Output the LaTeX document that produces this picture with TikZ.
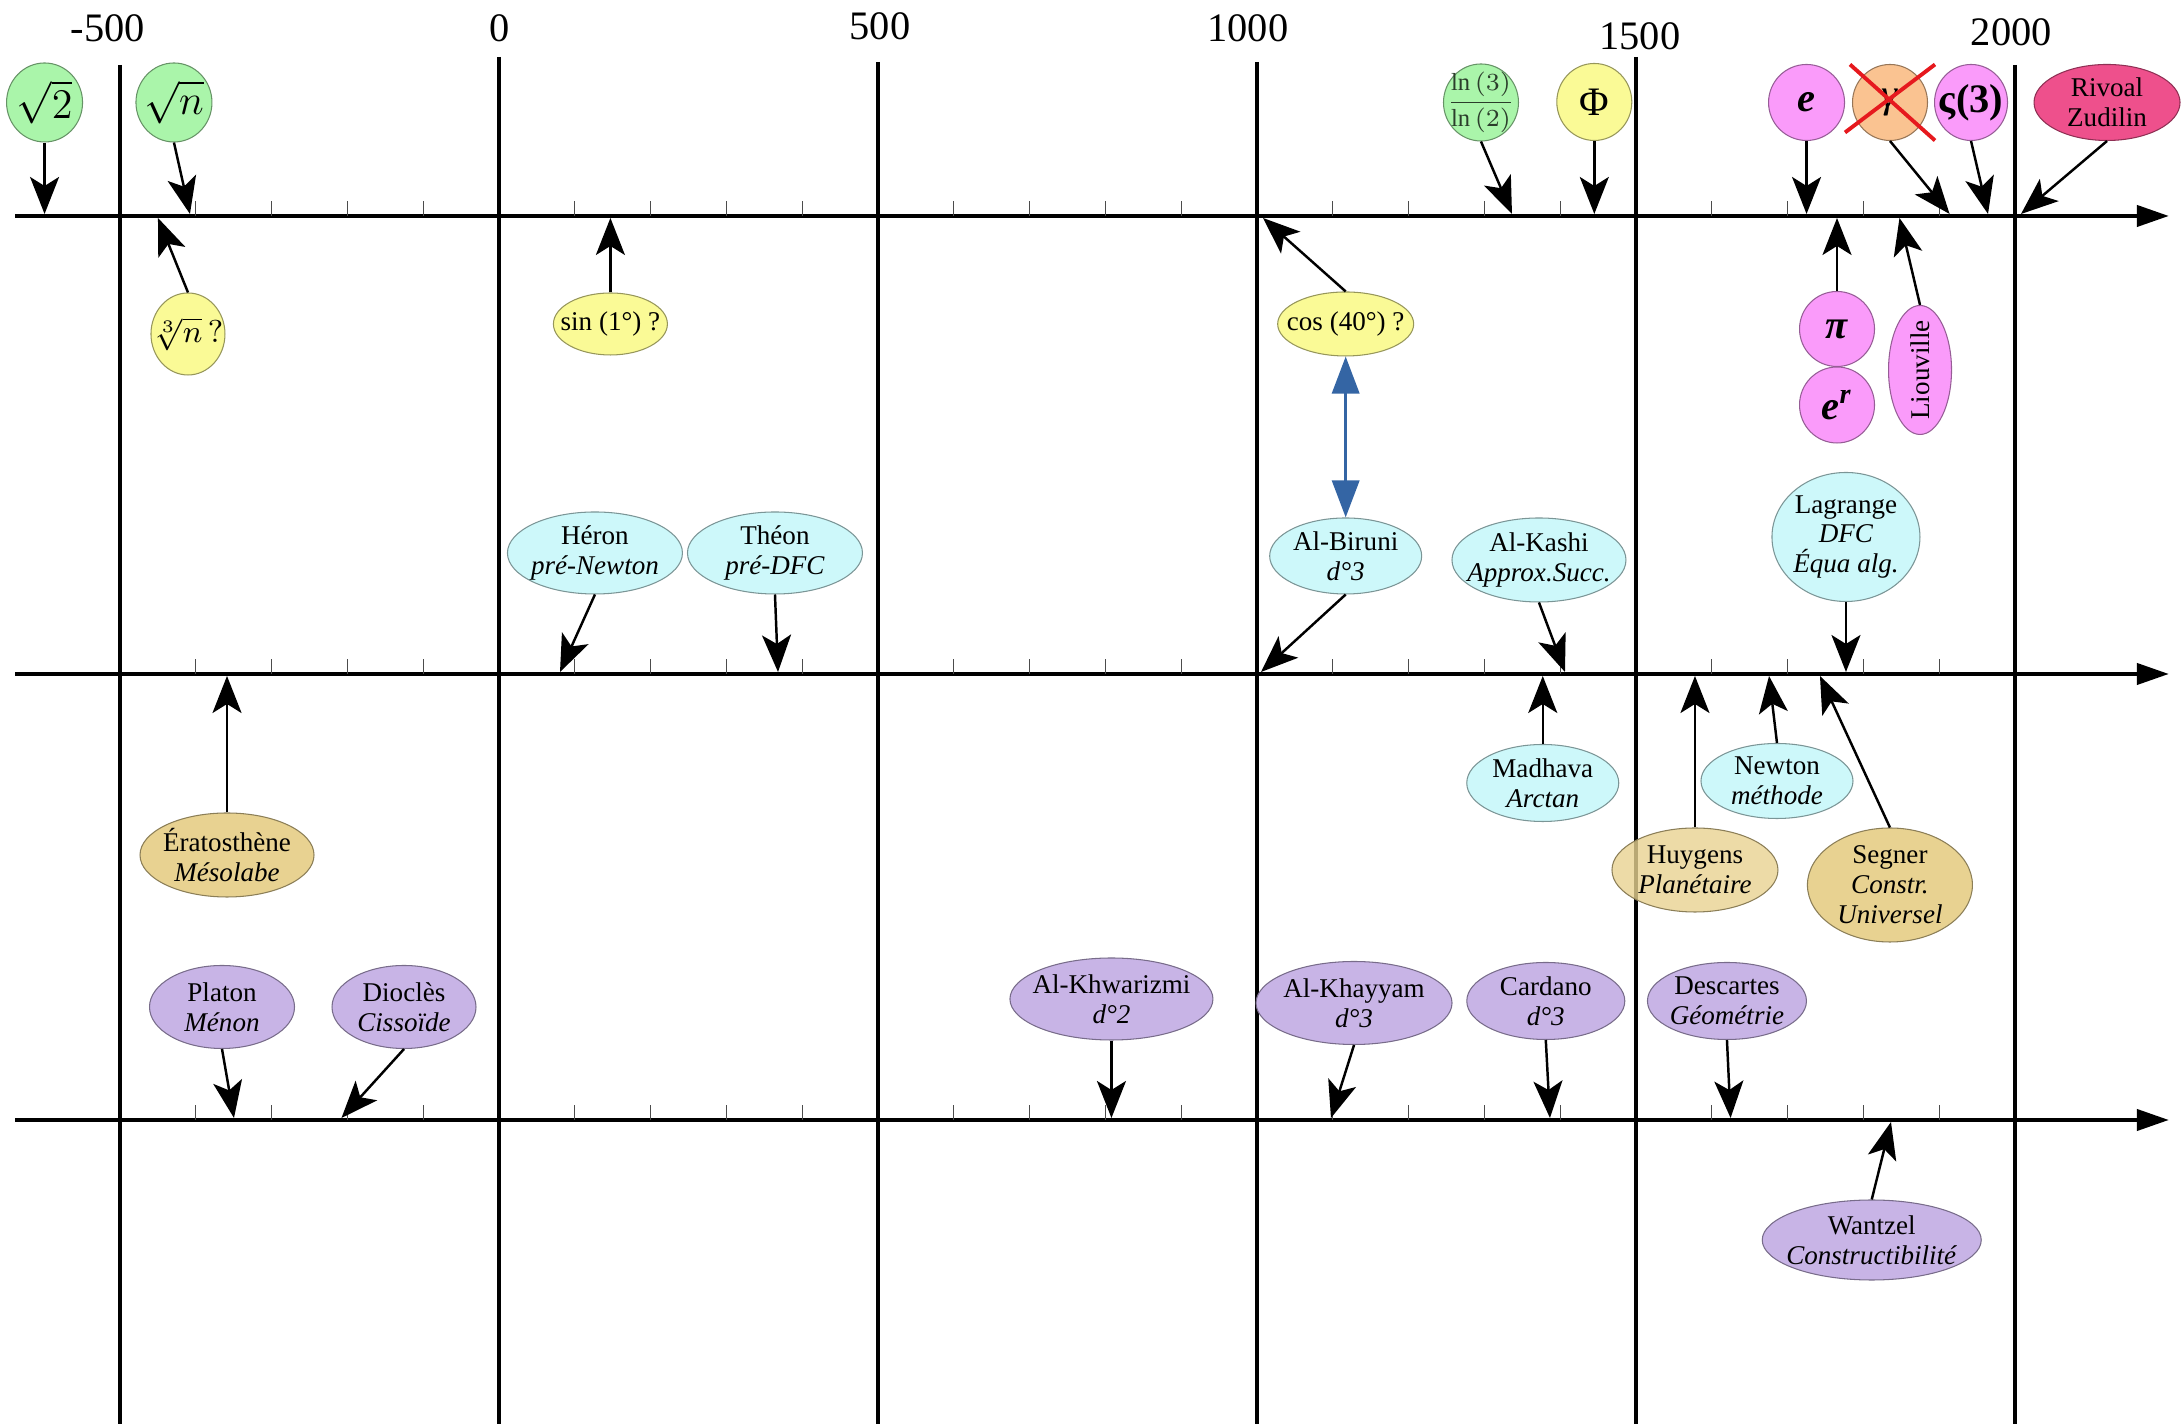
\documentclass[tikz,border=0pt]{standalone}
\usepackage{fontspec}
\setmainfont{Liberation Serif}
\usepackage{amsmath,bm,graphicx}
\usetikzlibrary{shapes.geometric,arrows.meta}

\definecolor{vclair}{RGB}{170,245,170}
\definecolor{jclair}{RGB}{250,250,150}
\definecolor{rose}{RGB}{250,155,250}
\definecolor{orclair}{RGB}{250,195,145}
\definecolor{framboise}{RGB}{238,80,140}
\definecolor{cyclair}{RGB}{205,248,250}
\definecolor{sable}{RGB}{232,210,145}
\definecolor{mauve}{RGB}{200,180,230}
\definecolor{bleu}{RGB}{52,101,164}
\definecolor{rouge}{RGB}{230,25,30}

\tikzset{
  bulle/.style={ellipse, draw=#1!60!black, fill=#1, line width=0.3pt,
    inner sep=-3mm, align=center, font=\fontsize{7.7}{8.5}\selectfont},
  taille/.style 2 args={minimum width=#1cm, minimum height=#2cm},
  maths/.style={font=\fontsize{11.5}{13}\selectfont},
  fl/.style={-{Stealth[length=3.7mm,width=2.9mm,inset=0.9mm]}, line width=0.7pt},
  axe/.style={-{Triangle[length=3.2mm,width=2.1mm]}, line width=1.15pt},
  graduation/.style={line width=0.35pt, black!70},
  annee/.style={font=\fontsize{11.5}{13}\selectfont, inner sep=0pt},
  bidir/.style={{Triangle[length=3.7mm,width=2.7mm]}-{Triangle[length=3.7mm,width=2.7mm]}, draw=bleu, line width=1pt},
  croix/.style={draw=rouge, line width=1.1pt}
}

\begin{document}
\begin{tikzpicture}[x=0.758cm,y=1cm]
    \useasboundingbox (-6.583,0) rectangle (22.19,14.24);
    % axes, years, graduations
    \foreach \y in {12.08,7.50,3.04}
      \draw[axe] (-6.385,\y) -- (22.03,\y);
    \foreach \x/\t in {-5/13.59,0/13.67,5/13.62,10/13.62,15/13.67,20/13.59}
      \draw[line width=1pt] (\x,\t) -- (\x,0);
    \foreach \y in {12.08,7.50,3.04}
      \foreach \x in {-4,-3,-2,-1,1,2,3,4,6,7,8,9,11,12,13,14,16,17,18,19}
        \draw[graduation] (\x,\y) -- (\x,\y+0.15);
    \node[annee] (an-m500) at (-5.158,13.96) {-500};
    \node[annee] (an-0) at (0.013,13.96) {0};
    \node[annee] (an-500) at (5.026,13.98) {500};
    \node[annee] (an-1000) at (9.88,13.96) {1000};
    \node[annee] (an-1500) at (15.05,13.88) {1500};
    \node[annee] (an-2000) at (19.95,13.92) {2000};

    % nombres
    \node[bulle=vclair, maths, taille={0.76}{0.79}] (racdeux) at (-5.995,13.215) {$\sqrt{2}$};
    \node[bulle=vclair, maths, taille={0.76}{0.79}] (racn) at (-4.288,13.215) {$\sqrt{n}$};
    \node[bulle=jclair, taille={0.74}{0.82}, font=\fontsize{9.5}{11}\selectfont] (racube) at (-4.103,10.90) {$\sqrt[3]{n}\,?$};
    \node[bulle=jclair, taille={1.14}{0.62}] (sinus) at (1.47,11.00) {sin (1°) ?};
    \node[bulle=vclair, taille={0.75}{0.77}, font=\fontsize{7}{8}\selectfont, text=vclair!25!black] (lnrap) at (12.955,13.215) {$\dfrac{\ln\,(3)}{\ln\,(2)}$};
    \node[bulle=jclair, maths, taille={0.75}{0.77}] (phi) at (14.45,13.22) {Φ};
    \node[bulle=rose, maths, taille={0.76}{0.76}] (nbe) at (17.25,13.215) {\textbf{\textit{e}}};
    \node[bulle=orclair, maths, taille={0.75}{0.76}] (gamma) at (18.351,13.215) {\textit{γ}};
    \node[bulle=rose, maths, taille={0.73}{0.76}] (zeta) at (19.42,13.215) {\textbf{ς(3)}};
    \node[bulle=framboise, taille={1.46}{0.76}] (rivoal) at (21.214,13.215) {Rivoal\\Zudilin};
    \node[bulle=rose, maths, taille={0.75}{0.75}] (nbpi) at (17.652,10.95) {\textbf{\textit{π}}};
    \node[bulle=rose, maths, taille={0.75}{0.76}] (er) at (17.652,10.19) {\textbf{\textit{e\textsuperscript{r}}}};
    \node[bulle=rose, taille={0.63}{1.29}] (liouville) at (18.747,10.54) {\rotatebox{90}{Liouville}};
    \node[bulle=jclair, taille={1.36}{0.64}] (cosinus) at (11.17,11.00) {cos (40°) ?};
    \draw[croix] ([shift={(-0.40cm,0.38cm)}]gamma.center) -- ([shift={(0.45cm,-0.38cm)}]gamma.center)
                 ([shift={(0.45cm,0.38cm)}]gamma.center) -- ([shift={(-0.45cm,-0.30cm)}]gamma.center);

    % methodes
    \node[bulle=cyclair, taille={1.75}{0.82}] (heron) at (1.266,8.71) {Héron\\\textit{pré-Newton}};
    \node[bulle=cyclair, taille={1.75}{0.82}] (theon) at (3.641,8.71) {Théon\\\textit{pré-DFC}};
    \node[bulle=cyclair, taille={1.52}{0.76}] (biruni) at (11.17,8.68) {Al-Biruni\\\textit{d°3}};
    \node[bulle=cyclair, taille={1.74}{0.84}] (kashi) at (13.72,8.64) {Al-Kashi\\\textit{Approx.Succ.}};
    \node[bulle=cyclair, taille={1.48}{1.29}] (lagrange) at (17.77,8.87) {Lagrange\\\textit{DFC}\\\textit{Équa alg.}};
    \node[bulle=sable, taille={1.74}{0.84}] (eratos) at (-3.588,5.69) {Ératosthène\\\textit{Mésolabe}};
    \node[bulle=cyclair, taille={1.52}{0.77}] (madhava) at (13.77,6.41) {Madhava\\\textit{Arctan}};
    \node[bulle=cyclair, taille={1.52}{0.75}] (newton) at (16.86,6.43) {Newton\\\textit{méthode}};
    \node[bulle=sable, taille={1.66}{0.84}, fill opacity=0.8, text opacity=1] (huygens) at (15.778,5.54) {Huygens\\\textit{Planétaire}};
    \node[bulle=sable, taille={1.65}{1.14}] (segner) at (18.35,5.39) {Segner\\\textit{Constr.}\\\textit{Universel}};

    % constructions
    \node[bulle=mauve, taille={1.45}{0.83}] (platon) at (-3.654,4.17) {Platon\\\textit{Ménon}};
    \node[bulle=mauve, taille={1.44}{0.83}] (diocles) at (-1.253,4.17) {Dioclès\\\textit{Cissoïde}};
    \node[bulle=mauve, taille={2.03}{0.82}] (khwarizmi) at (8.08,4.25) {Al-Khwarizmi\\\textit{d°2}};
    \node[bulle=mauve, taille={1.96}{0.83}] (khayyam) at (11.28,4.21) {Al-Khayyam\\\textit{d°3}};
    \node[bulle=mauve, taille={1.58}{0.77}] (cardano) at (13.81,4.23) {Cardano\\\textit{d°3}};
    \node[bulle=mauve, taille={1.59}{0.77}] (descartes) at (16.20,4.23) {Descartes\\\textit{Géométrie}};
    \node[bulle=mauve, taille={2.19}{0.80}] (wantzel) at (18.11,1.84) {Wantzel\\\textit{Constructibilité}};

    % fleches vers les axes
    \foreach \n/\x in {racdeux/-5.995,racn/-4.077,lnrap/13.364,phi/14.45,nbe/17.25,gamma/19.137,zeta/19.644,rivoal/20.079}{
      \coordinate (\n-t) at (\x,12.10);
      \draw[fl] (\n.south) -- (\n-t);
    }
    \foreach \n/\x in {racube/-4.499,sinus/1.47,nbpi/17.652,liouville/18.476,cosinus/10.079}{
      \coordinate (\n-t) at (\x,12.06);
      \draw[fl] (\n.north) -- (\n-t);
    }
    \foreach \n/\x in {heron/0.805,theon/3.681,biruni/10.053,kashi/14.063,lagrange/17.77}{
      \coordinate (\n-t) at (\x,7.52);
      \draw[fl] (\n.south) -- (\n-t);
    }
    \foreach \n/\x in {eratos/-3.588,madhava/13.77,newton/16.755,huygens/15.778,segner/17.427}{
      \coordinate (\n-t) at (\x,7.48);
      \draw[fl] (\n.north) -- (\n-t);
    }
    \foreach \n/\x in {platon/-3.496,diocles/-2.078,khwarizmi/8.08,khayyam/10.976,cardano/13.865,descartes/16.248}{
      \coordinate (\n-t) at (\x,3.06);
      \draw[fl] (\n.south) -- (\n-t);
    }
    \coordinate (wantzel-t) at (18.364,3.02);
    \draw[fl] (wantzel.north) -- (wantzel-t);

    \draw[bidir] (cosinus) -- (biruni);
\end{tikzpicture}
\end{document}
